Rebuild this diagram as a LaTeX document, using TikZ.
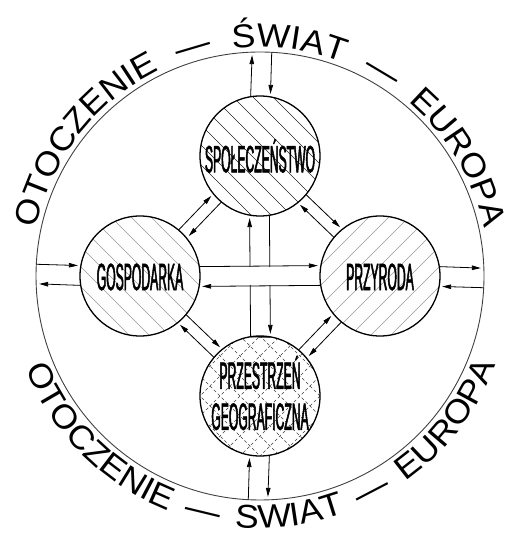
\documentclass[tikz,border=0pt]{standalone}
\usepackage{fontspec}
\setmainfont{Liberation Sans}
\newfontfamily\condfam[FakeStretch=0.32,FakeBold=1.3]{Liberation Sans}
\newfontfamily\outerfam[FakeStretch=1.08]{Liberation Sans}
\usetikzlibrary{arrows.meta,decorations.text}
\newcommand\outerfont{\outerfam\fontsize{33}{36}\selectfont}
\newcommand\innerfont{\condfam\fontsize{38}{41}\selectfont}
\begin{document}
\begin{tikzpicture}[x=1pt,y=1pt,
  circ/.style={circle, draw, line width=1.3pt, minimum size=120pt, inner sep=0pt, outer sep=0pt},
  lbl/.style={font=\innerfont, inner sep=0pt, align=center},
  arr/.style={-{Triangle[length=9pt,width=4.5pt]}, line width=0.8pt, shorten >=3pt},
  hatchA/.style={line width=0.6pt, black!85},
  hatchB/.style={line width=0.6pt, black!40},
  hatchC/.style={line width=0.6pt, black!40},
  hatchD/.style={line width=0.6pt, black!75, dash pattern=on 3pt off 2.5pt},
]
\useasboundingbox (0,0) rectangle (510,534);
\coordinate (c) at (260,258);
% hatching
\begin{scope}[shift={(260,378)}]
  \clip (0,0) circle (60);
  \foreach \k in {-108,-88,...,112} \draw[hatchA] (\k-80,80) -- (\k+80,-80);
\end{scope}
\begin{scope}[shift={(140,258)}]
  \clip (0,0) circle (60);
  \foreach \k in {-110,-90,...,110} \draw[hatchB] (\k-80,80) -- (\k+80,-80);
\end{scope}
\begin{scope}[shift={(380,258)}]
  \clip (0,0) circle (60);
  \foreach \k in {-110,-90,...,110} \draw[hatchC] (\k-80,-80) -- (\k+80,80);
\end{scope}
\begin{scope}[shift={(260,138)}]
  \clip (0,0) circle (60);
  \foreach \k in {-100,-80,...,100} {
    \draw[hatchD] (\k-80,80) -- (\k+80,-80);
    \draw[hatchD] (\k-80,-80) -- (\k+80,80);
  }
\end{scope}
% circles
\node[circle, draw=black!75, line width=0.9pt, minimum size=448pt, inner sep=0pt, outer sep=0pt] (O) at (c) {};
\node[circ] (S) at (260,378) {};
\node[circ] (G) at (140,258) {};
\node[circ] (P) at (380,258) {};
\node[circ] (Q) at (260,138) {};
\node[lbl] (tS) at (260,378) {SPOŁECZEŃSTWO};
\node[lbl] (tG) at (140,257) {GOSPODARKA};
\node[lbl] (tP) at (380,257) {PRZYRODA};
\node[lbl] (tQ) at (260,141) {PRZESTRZEŃ\\GEOGRAFICZNA};
% outer connectors
\draw[arr] (S.99.6) -- (O.92.56);
\draw[arr] (O.87.44) -- (S.80.4);
\draw[arr] (O.267.44) -- (Q.260.4);
\draw[arr] (Q.279.6) -- (O.272.56);
\draw[arr] (O.177.44) -- (G.170.4);
\draw[arr] (G.189.6) -- (O.182.56);
\draw[arr] (P.9.6) -- (O.2.56);
\draw[arr] (O.357.44) -- (P.350.4);
% diagonals
\draw[arr] (G.50.74) -- (S.219.26);
\draw[arr] (S.230.74) -- (G.39.26);
\draw[arr] (S.320.74) -- (P.129.26);
\draw[arr] (P.140.74) -- (S.309.26);
\draw[arr] (P.230.74) -- (Q.39.26);
\draw[arr] (Q.50.74) -- (P.219.26);
\draw[arr] (Q.140.74) -- (G.309.26);
\draw[arr] (G.320.74) -- (Q.129.26);
% central cross
\draw[arr] (Q.99.6) -- (S.260.4);
\draw[arr] (S.279.6) -- (Q.80.4);
\fill[white] (246,248.6) rectangle (274,267.4);
\draw[arr] (G.9.6) -- (P.170.4);
\draw[arr] (P.189.6) -- (G.350.4);
\draw[line width=1.4pt] (Q.99.6) -- (Q.80.4);
% outer texts
\path[decorate, decoration={text along path, text={|\outerfont|OTOCZENIE — ŚWIAT — EUROPA}, text align={fit to path stretching spaces}}]
  (c) ++(168:229) arc[start angle=168, end angle=12, radius=229];
\path[decorate, decoration={text along path, text={|\outerfont|OTOCZENIE — SWIAT — EUROPA}, text align={fit to path stretching spaces}}]
  (c) ++(201.5:252) arc[start angle=201.5, end angle=339.5, radius=252];
\end{tikzpicture}
\end{document}
